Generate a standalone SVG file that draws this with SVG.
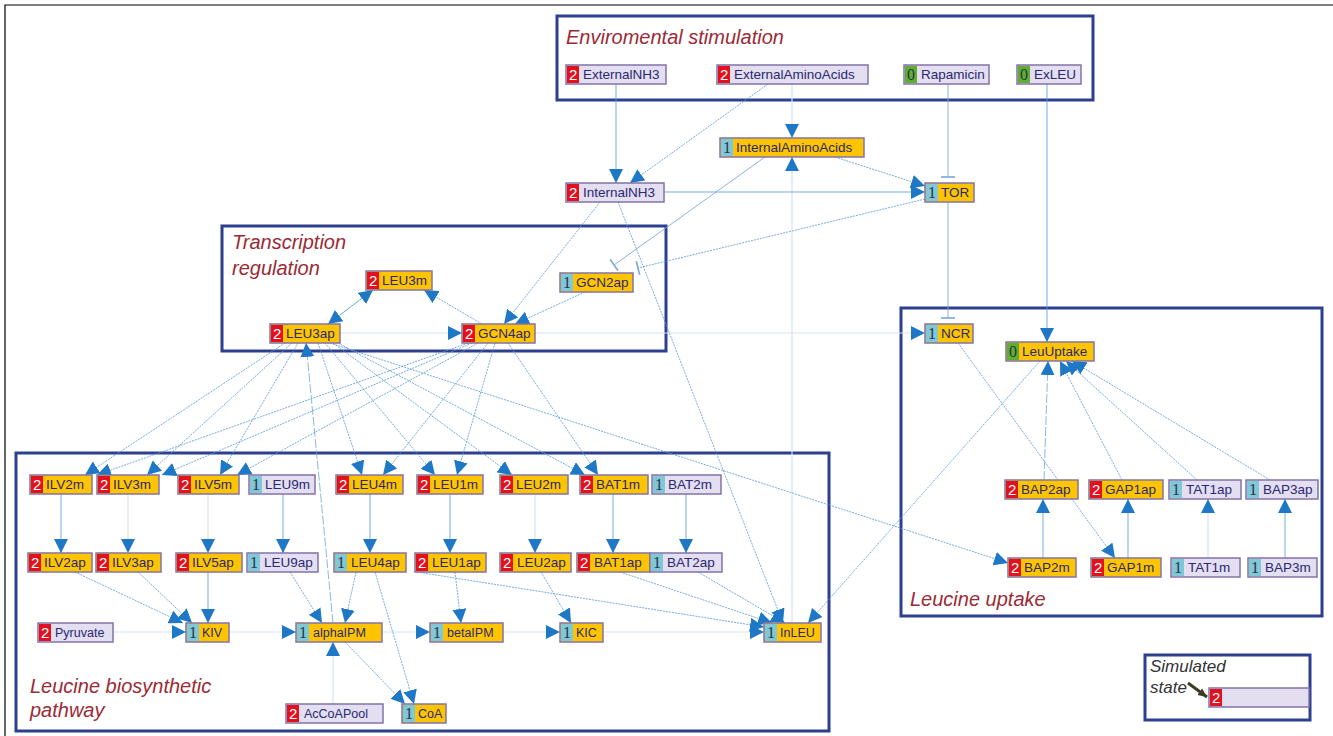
<svg xmlns="http://www.w3.org/2000/svg" width="1333" height="736" viewBox="0 0 1333 736">
<style>
.bg{fill:#ffffff}
.frame{fill:none;stroke:#000;stroke-width:1.2}
.box{fill:none;stroke:#2D3F8F;stroke-width:3}
.title{font-family:"Liberation Sans",Arial,sans-serif;font-style:italic;font-size:20px;fill:#9B2B35}
.leg{font-family:"Liberation Sans",Arial,sans-serif;font-style:italic;font-size:17px;fill:#333}
.nb{stroke:#8373A8;stroke-width:1.5}
.y{fill:#FFC400}
.l{fill:#E3DEF0}
.br{fill:#E3111E}
.bc{fill:#80C8D6}
.bg0{fill:#5FAE2E}
.t{font-family:"Liberation Sans",Arial,sans-serif;font-size:13.5px;fill:#2A2870}
.ts{font-size:12.5px}
.bw{font-family:"Liberation Sans",Arial,sans-serif;font-size:15px;fill:#fff}
.bd{font-family:"Liberation Serif","Times New Roman",serif;font-size:16px;fill:#2A3050}
.e{fill:none;stroke:#5C9DDA;stroke-width:0.85;marker-end:url(#ar)}
.ed{fill:none;stroke:#5C9DDA;stroke-width:0.85;stroke-dasharray:2 1;marker-end:url(#ar)}
.el{fill:none;stroke:#6FA6DA;stroke-width:0.8;stroke-dasharray:9 2;marker-end:url(#ar)}
.ef{fill:none;stroke:#D6E4F4;stroke-width:1.2;marker-end:url(#ar)}
.eb{fill:none;stroke:#5C9DDA;stroke-width:0.85;marker-end:url(#ar);marker-start:url(#as)}
.et{fill:none;stroke:#7FA8D6;stroke-width:0.9;marker-end:url(#tb)}
.etd{fill:none;stroke:#5C9DDA;stroke-width:0.85;stroke-dasharray:2 1;marker-end:url(#tb)}
</style>
<defs>
<marker id="ar" markerUnits="userSpaceOnUse" markerWidth="14" markerHeight="14" viewBox="0 0 12 12" refX="12" refY="6" orient="auto"><path d="M0,0 L12,6 L0,12 z" fill="#1E78C6"/></marker>
<marker id="as" markerUnits="userSpaceOnUse" markerWidth="14" markerHeight="14" viewBox="0 0 12 12" refX="0" refY="6" orient="auto"><path d="M12,0 L0,6 L12,12 z" fill="#1E78C6"/></marker>
<marker id="tb" markerUnits="userSpaceOnUse" markerWidth="14" markerHeight="14" viewBox="0 0 12 12" refX="11" refY="6" orient="auto"><path d="M11,0 L11,12" stroke="#7FA8D6" stroke-width="1.4"/></marker>
<marker id="lg" markerUnits="userSpaceOnUse" markerWidth="10" markerHeight="10" viewBox="0 0 10 10" refX="9" refY="5" orient="auto"><path d="M0,1 L9,5 L0,9 z" fill="#3D3B22"/></marker>
</defs>
<rect class="bg" x="0" y="0" width="1333" height="736"/>
<path class="frame" d="M5,736 V5 H1333"/>

<g id="regions">
<rect class="box" x="557" y="16" width="536" height="84"/>
<text class="title" x="566" y="44">Enviromental stimulation</text>
<rect class="box" x="222" y="226" width="444" height="125"/>
<text class="title" x="232" y="249">Transcription</text>
<text class="title" x="232" y="275">regulation</text>
<rect class="box" x="901" y="308" width="421" height="308"/>
<text class="title" x="910" y="606">Leucine uptake</text>
<rect class="box" x="16" y="453" width="813" height="278"/>
<text class="title" x="30" y="693">Leucine biosynthetic</text>
<text class="title" x="30" y="717">pathway</text>
<rect class="box" x="1145" y="655" width="165" height="65"/>
<text class="leg" x="1150" y="672">Simulated</text>
<text class="leg" x="1150" y="693">state</text>
</g>

<g id="connectors">
<path class="ef" d="M792,623 L792,157"/>
<path class="ef" d="M792,84 L792,138"/>
<path class="ef" d="M340,333 L462,333"/>
<path class="ef" d="M535,333 L925,333"/>
<path class="ef" d="M1208,558 L1208,499"/>
<path class="ef" d="M128,494 L128,553"/>
<path class="ef" d="M208,494 L208,553"/>
<path class="ef" d="M535,494 L535,553"/>
<path class="ef" d="M113,632 L186,632"/>
<path class="ef" d="M229,632 L296,632"/>
<path class="ef" d="M382,632 L430,632"/>
<path class="ef" d="M503,632 L560,632"/>
<path class="ef" d="M603,632 L764,632"/>
<path class="ef" d="M333,704 L333,642"/>
<path class="e" d="M616,84 L616,183"/>
<path class="ed" d="M768,84 L630,183"/>
<path class="ed" d="M835,157 L925,186"/>
<path class="e" d="M664,192 L925,192"/>
<path class="et" d="M948,84 L948,177"/>
<path class="et" d="M948,202 L948,318"/>
<path class="etd" d="M925,199 L638,268"/>
<path class="et" d="M765,157 L614,265"/>
<path class="e" d="M1047,84 L1047,342"/>
<path class="ed" d="M600,202 L504,324"/>
<path class="ed" d="M618,202 L783,623"/>
<path class="ed" d="M585,292 L515,324"/>
<path class="eb" d="M373,290 L328,324"/>
<path class="ed" d="M482,324 L424,290"/>
<path class="ed" d="M958,343 L1115,558"/>
<path class="ed" d="M1040,361 L808,623"/>
<path class="el" d="M1044,480 L1048,361"/>
<path class="ed" d="M1122,480 L1060,361"/>
<path class="ed" d="M1197,480 L1066,361"/>
<path class="ed" d="M1270,480 L1072,361"/>
<path class="e" d="M1043,558 L1043,499"/>
<path class="e" d="M1128,558 L1128,499"/>
<path class="e" d="M1285,558 L1285,499"/>
<path class="ed" d="M330,343 L1008,563"/>
<path class="ed" d="M285,343 L85,475"/>
<path class="ed" d="M292,343 L147,475"/>
<path class="ed" d="M298,343 L220,475"/>
<path class="ed" d="M318,343 L362,475"/>
<path class="ed" d="M325,343 L435,475"/>
<path class="ed" d="M333,343 L512,475"/>
<path class="ed" d="M338,343 L585,475"/>
<path class="ed" d="M468,343 L97,475"/>
<path class="ed" d="M472,343 L162,475"/>
<path class="ed" d="M478,343 L237,475"/>
<path class="ed" d="M488,343 L383,475"/>
<path class="ed" d="M495,343 L457,475"/>
<path class="ed" d="M508,343 L598,475"/>
<path class="el" d="M333,623 L306,343"/>
<path class="e" d="M61,494 L61,553"/>
<path class="e" d="M283,494 L283,553"/>
<path class="e" d="M370,494 L370,553"/>
<path class="e" d="M450,494 L450,553"/>
<path class="e" d="M613,494 L613,553"/>
<path class="e" d="M686,494 L686,553"/>
<path class="ed" d="M75,572 L183,623"/>
<path class="ed" d="M138,572 L192,623"/>
<path class="e" d="M208,572 L208,623"/>
<path class="ed" d="M290,572 L322,623"/>
<path class="ed" d="M356,572 L345,623"/>
<path class="ed" d="M375,572 L414,704"/>
<path class="ed" d="M345,642 L405,704"/>
<path class="ed" d="M455,572 L461,623"/>
<path class="ed" d="M417,572 L764,627"/>
<path class="ed" d="M541,572 L571,623"/>
<path class="ed" d="M620,572 L772,623"/>
<path class="ed" d="M698,572 L785,623"/>
<path d="M1188,683 L1207,697" stroke="#3D3B22" stroke-width="3" fill="none" marker-end="url(#lg)"/>
</g>

<g id="ExternalNH3"><rect class="l nb" x="566" y="65" width="100" height="19"/><rect class="br" x="567" y="66" width="12" height="17"/><text class="bw" x="569" y="80">2</text><text class="t" x="583" y="79">ExternalNH3</text></g>
<g id="ExternalAminoAcids"><rect class="l nb" x="717" y="65" width="151" height="19"/><rect class="br" x="718" y="66" width="12" height="17"/><text class="bw" x="720" y="80">2</text><text class="t" x="734" y="79">ExternalAminoAcids</text></g>
<g id="Rapamicin"><rect class="l nb" x="904" y="65" width="85" height="19"/><rect class="bg0" x="905" y="66" width="12" height="17"/><text class="bd" x="907" y="80">0</text><text class="t" x="921" y="79">Rapamicin</text></g>
<g id="ExLEU"><rect class="l nb" x="1017" y="65" width="64" height="19"/><rect class="bg0" x="1018" y="66" width="12" height="17"/><text class="bd" x="1020" y="80">0</text><text class="t" x="1034" y="79">ExLEU</text></g>
<g id="InternalAminoAcids"><rect class="y nb" x="720" y="138" width="144" height="19"/><rect class="bc" x="721" y="139" width="12" height="17"/><text class="bd" x="723" y="153">1</text><text class="t" x="736" y="152">InternalAminoAcids</text></g>
<g id="InternalNH3"><rect class="l nb" x="566" y="183" width="98" height="19"/><rect class="br" x="567" y="184" width="12" height="17"/><text class="bw" x="569" y="198">2</text><text class="t" x="583" y="197">InternalNH3</text></g>
<g id="TOR"><rect class="y nb" x="925" y="183" width="49" height="19"/><rect class="bc" x="926" y="184" width="12" height="17"/><text class="bd" x="928" y="198">1</text><text class="t" x="941" y="197">TOR</text></g>

<g id="LEU3m"><rect class="y nb" x="366" y="271" width="66" height="19"/><rect class="br" x="367" y="272" width="12" height="17"/><text class="bw" x="369" y="286">2</text><text class="t" x="382" y="285">LEU3m</text></g>
<g id="GCN2ap"><rect class="y nb" x="560" y="273" width="73" height="19"/><rect class="bc" x="561" y="274" width="12" height="17"/><text class="bd" x="563" y="288">1</text><text class="t" x="576" y="287">GCN2ap</text></g>
<g id="LEU3ap"><rect class="y nb" x="270" y="324" width="70" height="19"/><rect class="br" x="271" y="325" width="12" height="17"/><text class="bw" x="273" y="339">2</text><text class="t" x="286" y="338">LEU3ap</text></g>
<g id="GCN4ap"><rect class="y nb" x="462" y="324" width="73" height="19"/><rect class="br" x="463" y="325" width="12" height="17"/><text class="bw" x="465" y="339">2</text><text class="t" x="478" y="338">GCN4ap</text></g>

<g id="NCR"><rect class="y nb" x="925" y="324" width="48" height="19"/><rect class="bc" x="926" y="325" width="12" height="17"/><text class="bd" x="928" y="339">1</text><text class="t" x="941" y="338">NCR</text></g>
<g id="LeuUptake"><rect class="y nb" x="1006" y="342" width="88" height="19"/><rect class="bg0" x="1007" y="343" width="12" height="17"/><text class="bd" x="1009" y="357">0</text><text class="t" x="1022" y="356">LeuUptake</text></g>
<g id="BAP2ap"><rect class="y nb" x="1005" y="480" width="73" height="19"/><rect class="br" x="1006" y="481" width="12" height="17"/><text class="bw" x="1008" y="495">2</text><text class="t" x="1021" y="494">BAP2ap</text></g>
<g id="GAP1ap"><rect class="y nb" x="1089" y="480" width="74" height="19"/><rect class="br" x="1090" y="481" width="12" height="17"/><text class="bw" x="1092" y="495">2</text><text class="t" x="1105" y="494">GAP1ap</text></g>
<g id="TAT1ap"><rect class="l nb" x="1169" y="480" width="72" height="19"/><rect class="bc" x="1170" y="481" width="12" height="17"/><text class="bd" x="1172" y="495">1</text><text class="t" x="1186" y="494">TAT1ap</text></g>
<g id="BAP3ap"><rect class="l nb" x="1246" y="480" width="72" height="19"/><rect class="bc" x="1247" y="481" width="12" height="17"/><text class="bd" x="1249" y="495">1</text><text class="t" x="1263" y="494">BAP3ap</text></g>
<g id="BAP2m"><rect class="y nb" x="1008" y="558" width="68" height="19"/><rect class="br" x="1009" y="559" width="12" height="17"/><text class="bw" x="1011" y="573">2</text><text class="t" x="1024" y="572">BAP2m</text></g>
<g id="GAP1m"><rect class="y nb" x="1091" y="558" width="70" height="19"/><rect class="br" x="1092" y="559" width="12" height="17"/><text class="bw" x="1094" y="573">2</text><text class="t" x="1107" y="572">GAP1m</text></g>
<g id="TAT1m"><rect class="l nb" x="1171" y="558" width="69" height="19"/><rect class="bc" x="1172" y="559" width="12" height="17"/><text class="bd" x="1174" y="573">1</text><text class="t" x="1188" y="572">TAT1m</text></g>
<g id="BAP3m"><rect class="l nb" x="1248" y="558" width="69" height="19"/><rect class="bc" x="1249" y="559" width="12" height="17"/><text class="bd" x="1251" y="573">1</text><text class="t" x="1265" y="572">BAP3m</text></g>

<g id="ILV2m"><rect class="y nb" x="30" y="475" width="62" height="19"/><rect class="br" x="31" y="476" width="12" height="17"/><text class="bw" x="33" y="490">2</text><text class="t" x="46" y="489">ILV2m</text></g>
<g id="ILV3m"><rect class="y nb" x="97" y="475" width="62" height="19"/><rect class="br" x="98" y="476" width="12" height="17"/><text class="bw" x="100" y="490">2</text><text class="t" x="113" y="489">ILV3m</text></g>
<g id="ILV5m"><rect class="y nb" x="178" y="475" width="61" height="19"/><rect class="br" x="179" y="476" width="12" height="17"/><text class="bw" x="181" y="490">2</text><text class="t" x="194" y="489">ILV5m</text></g>
<g id="LEU9m"><rect class="l nb" x="249" y="475" width="66" height="19"/><rect class="bc" x="250" y="476" width="12" height="17"/><text class="bd" x="252" y="490">1</text><text class="t" x="265" y="489">LEU9m</text></g>
<g id="LEU4m"><rect class="y nb" x="336" y="475" width="67" height="19"/><rect class="br" x="337" y="476" width="12" height="17"/><text class="bw" x="339" y="490">2</text><text class="t" x="352" y="489">LEU4m</text></g>
<g id="LEU1m"><rect class="y nb" x="417" y="475" width="66" height="19"/><rect class="br" x="418" y="476" width="12" height="17"/><text class="bw" x="420" y="490">2</text><text class="t" x="433" y="489">LEU1m</text></g>
<g id="LEU2m"><rect class="y nb" x="500" y="475" width="68" height="19"/><rect class="br" x="501" y="476" width="12" height="17"/><text class="bw" x="503" y="490">2</text><text class="t" x="516" y="489">LEU2m</text></g>
<g id="BAT1m"><rect class="y nb" x="580" y="475" width="68" height="19"/><rect class="br" x="581" y="476" width="12" height="17"/><text class="bw" x="583" y="490">2</text><text class="t" x="596" y="489">BAT1m</text></g>
<g id="BAT2m"><rect class="l nb" x="652" y="475" width="69" height="19"/><rect class="bc" x="653" y="476" width="12" height="17"/><text class="bd" x="655" y="490">1</text><text class="t" x="668" y="489">BAT2m</text></g>

<g id="ILV2ap"><rect class="y nb" x="28" y="553" width="64" height="19"/><rect class="br" x="29" y="554" width="12" height="17"/><text class="bw" x="31" y="568">2</text><text class="t" x="44" y="567">ILV2ap</text></g>
<g id="ILV3ap"><rect class="y nb" x="96" y="553" width="65" height="19"/><rect class="br" x="97" y="554" width="12" height="17"/><text class="bw" x="99" y="568">2</text><text class="t" x="112" y="567">ILV3ap</text></g>
<g id="ILV5ap"><rect class="y nb" x="176" y="553" width="66" height="19"/><rect class="br" x="177" y="554" width="12" height="17"/><text class="bw" x="179" y="568">2</text><text class="t" x="192" y="567">ILV5ap</text></g>
<g id="LEU9ap"><rect class="l nb" x="247" y="553" width="71" height="19"/><rect class="bc" x="248" y="554" width="12" height="17"/><text class="bd" x="250" y="568">1</text><text class="t" x="264" y="567">LEU9ap</text></g>
<g id="LEU4ap"><rect class="y nb" x="334" y="553" width="72" height="19"/><rect class="bc" x="335" y="554" width="12" height="17"/><text class="bd" x="337" y="568">1</text><text class="t" x="351" y="567">LEU4ap</text></g>
<g id="LEU1ap"><rect class="y nb" x="415" y="553" width="71" height="19"/><rect class="br" x="416" y="554" width="12" height="17"/><text class="bw" x="418" y="568">2</text><text class="t" x="432" y="567">LEU1ap</text></g>
<g id="LEU2ap"><rect class="y nb" x="500" y="553" width="71" height="19"/><rect class="br" x="501" y="554" width="12" height="17"/><text class="bw" x="503" y="568">2</text><text class="t" x="517" y="567">LEU2ap</text></g>
<g id="BAT1ap"><rect class="y nb" x="577" y="553" width="73" height="19"/><rect class="br" x="578" y="554" width="12" height="17"/><text class="bw" x="580" y="568">2</text><text class="t" x="594" y="567">BAT1ap</text></g>
<g id="BAT2ap"><rect class="l nb" x="650" y="553" width="72" height="19"/><rect class="bc" x="651" y="554" width="12" height="17"/><text class="bd" x="653" y="568">1</text><text class="t" x="667" y="567">BAT2ap</text></g>

<g id="Pyruvate"><rect class="l nb" x="38" y="623" width="75" height="19"/><rect class="br" x="39" y="624" width="12" height="17"/><text class="bw" x="41" y="638">2</text><text class="t ts" x="55" y="637">Pyruvate</text></g>
<g id="KIV"><rect class="y nb" x="186" y="623" width="43" height="19"/><rect class="bc" x="187" y="624" width="12" height="17"/><text class="bd" x="189" y="638">1</text><text class="t ts" x="202" y="637">KIV</text></g>
<g id="alphaIPM"><rect class="y nb" x="296" y="623" width="86" height="19"/><rect class="bc" x="297" y="624" width="12" height="17"/><text class="bd" x="299" y="638">1</text><text class="t ts" x="313" y="637">alphaIPM</text></g>
<g id="betaIPM"><rect class="y nb" x="430" y="623" width="73" height="19"/><rect class="bc" x="431" y="624" width="12" height="17"/><text class="bd" x="433" y="638">1</text><text class="t ts" x="447" y="637">betaIPM</text></g>
<g id="KIC"><rect class="y nb" x="560" y="623" width="43" height="19"/><rect class="bc" x="561" y="624" width="12" height="17"/><text class="bd" x="563" y="638">1</text><text class="t ts" x="576" y="637">KIC</text></g>
<g id="InLEU"><rect class="y nb" x="764" y="623" width="57" height="19"/><rect class="bc" x="765" y="624" width="12" height="17"/><text class="bd" x="767" y="638">1</text><text class="t ts" x="780" y="637">InLEU</text></g>
<g id="AcCoAPool"><rect class="l nb" x="286" y="704" width="97" height="19"/><rect class="br" x="287" y="705" width="12" height="17"/><text class="bw" x="289" y="719">2</text><text class="t ts" x="304" y="718">AcCoAPool</text></g>
<g id="CoA"><rect class="y nb" x="402" y="704" width="44" height="19"/><rect class="bc" x="403" y="705" width="12" height="17"/><text class="bd" x="405" y="719">1</text><text class="t ts" x="418" y="718">CoA</text></g>

<g id="legend-node"><rect class="l nb" x="1209" y="688" width="100" height="19"/><rect class="br" x="1210" y="689" width="12" height="17"/><text class="bw" x="1212" y="703">2</text></g>
</svg>
